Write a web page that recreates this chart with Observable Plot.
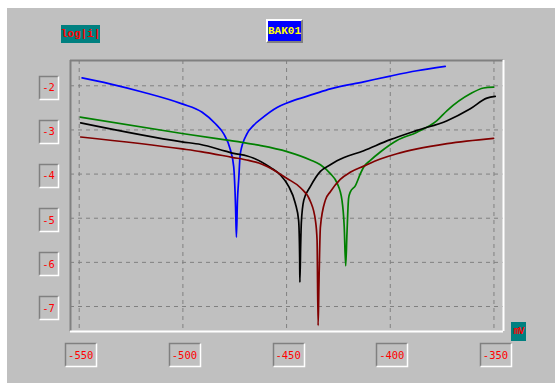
<!DOCTYPE html>
<html><head><meta charset="utf-8">
<script src="https://cdn.jsdelivr.net/npm/d3@7"></script>
<script src="https://cdn.jsdelivr.net/npm/@observablehq/plot@0.6"></script>
<style>
body{margin:0;background:#fff;}
#wrap{position:relative;width:555px;height:383px;overflow:hidden;}
#panel{position:absolute;left:7px;top:8px;width:548px;height:375px;background:#c0c0c0;}
#chart{position:absolute;left:0;top:0;}
.tag{position:absolute;font-family:"Liberation Mono",monospace;font-weight:bold;font-size:11px;line-height:1;display:flex;align-items:center;justify-content:center;box-sizing:border-box;white-space:nowrap;}
</style></head><body>
<div id="wrap"><div id="panel"></div><div id="chart"></div>
<div class="tag" style="left:61px;top:25px;width:39px;height:18px;background:#008080;color:#ff0000">log|i|</div>
<div class="tag" style="left:266px;top:19px;width:37px;height:24px;background:#0000ff;color:#ffff00;border:2px solid;border-color:#ffffff #808080 #808080 #ffffff">BAK01</div>
<div class="tag" style="left:511px;top:322px;width:15px;height:19px;background:#008080;color:#ff0000;font-size:10px;letter-spacing:-1px">mV</div>
</div>
<script>
const title = "BAK01";
const yLabel = "log|i|";
const xLabel = "mV";
const xTicks = [-550, -500, -450, -400, -350];
const yTicks = [-2, -3, -4, -5, -6, -7];

const blueV = [-548.6, -535.7, -519.6, -500.4, -490.7, -484.3, -480.3, -477.1, -475.5, -474.6, -474.2, -473.7, -473.1, -472.3, -469, -465.8, -462.6, -454.6, -449.8, -445.8, -437, -428.9, -412.8, -400, -387.1, -373.5];
const blueL = [-1.82, -1.95, -2.14, -2.41, -2.60, -2.86, -3.09, -3.45, -3.83, -4.75, -5.43, -4.6, -4.13, -3.53, -3.08, -2.89, -2.76, -2.49, -2.39, -2.32, -2.19, -2.07, -1.91, -1.78, -1.66, -1.56];

const greenV = [-549.4, -500.4, -478.7, -471.4, -464.2, -449.8, -438.5, -433.7, -428.9, -425.7, -423.3, -422.2, -421.5, -420.9, -420.1, -419.3, -416.8, -414.4, -412.8, -409.6, -404.8, -396.8, -387.1, -377.5, -372.6, -361.4, -355, -350.2];
const greenL = [-2.71, -3.08, -3.23, -3.28, -3.34, -3.49, -3.68, -3.79, -3.99, -4.20, -4.59, -5.20, -6.08, -5.36, -4.55, -4.41, -4.26, -3.99, -3.84, -3.69, -3.50, -3.24, -3.05, -2.79, -2.56, -2.18, -2.05, -2.03];

const blackV = [-549.3, -500.4, -491.4, -479.5, -475.5, -469, -465.8, -457.8, -453, -449, -445.8, -444.2, -443.7, -443.6, -443.2, -442.9, -441.7, -438.5, -433.7, -428.9, -425.7, -412.8, -400, -387.1, -372.6, -361.4, -353.4, -349.4];
const blackL = [-2.84, -3.27, -3.33, -3.48, -3.53, -3.59, -3.64, -3.85, -4.02, -4.28, -4.66, -5.05, -5.88, -6.45, -5.6, -5.11, -4.59, -4.28, -3.94, -3.79, -3.70, -3.47, -3.22, -3.01, -2.79, -2.52, -2.28, -2.24];

const redV = [-549.3, -500.4, -491.4, -476.3, -468.3, -463.4, -459.4, -449.8, -443.3, -438.5, -436.1, -435.3, -434.8, -434.4, -433.7, -431.3, -428.9, -424.1, -419.3, -412.8, -404.8, -396.8, -387.1, -372.6, -350.2];
const redL = [-3.16, -3.43, -3.49, -3.62, -3.69, -3.75, -3.83, -4.10, -4.31, -4.62, -5.05, -5.50, -7.43, -6.5, -5.20, -4.59, -4.40, -4.12, -3.96, -3.82, -3.66, -3.54, -3.43, -3.31, -3.19];

const series = [
  {name: "blue", color: "#0000ff", v: blueV, l: blueL},
  {name: "green", color: "#008000", v: greenV, l: greenL},
  {name: "black", color: "#000000", v: blackV, l: blackL},
  {name: "darkred", color: "#800000", v: redV, l: redL}
];

const xDomain = [-554.2, -345.4];
const yDomain = [-7.566, -1.427];
const tickFont = "'DejaVu Sans Mono', monospace";

const lineMarks = series.map(s => Plot.line(s.v.map((v, i) => ({v, l: s.l[i]})), {
  x: "v", y: "l", stroke: s.color, strokeWidth: 1.7, curve: "monotone-x"
}));

const plot = Plot.plot({
  width: 555, height: 383,
  marginLeft: 70, marginTop: 60, marginRight: 52, marginBottom: 52,
  style: {background: "transparent", overflow: "visible"},
  x: {domain: xDomain, axis: null},
  y: {domain: yDomain, axis: null},
  marks: [
    Plot.ruleX(xTicks, {stroke: "#808080", strokeDasharray: "4,4", strokeWidth: 1}),
    Plot.ruleY(yTicks, {stroke: "#808080", strokeDasharray: "4,4", strokeWidth: 1}),
    ...lineMarks,
    Plot.ruleY([yDomain[1]], {stroke: "#808080", strokeWidth: 2}),
    Plot.ruleX([xDomain[0]], {stroke: "#808080", strokeWidth: 2}),
    Plot.ruleY([yDomain[0]], {stroke: "#ffffff", strokeWidth: 2}),
    Plot.ruleX([xDomain[1]], {stroke: "#ffffff", strokeWidth: 2}),
    Plot.text(xTicks, {x: d => d, text: d => String(d), frameAnchor: "bottom", dy: 27, dx: 1.5,
      fill: "#ff0000", fontFamily: tickFont, fontSize: 10.5}),
    Plot.text(yTicks, {y: d => d, text: d => String(d), frameAnchor: "left", dx: -22, dy: 2,
      textAnchor: "middle", fill: "#ff0000", fontFamily: tickFont, fontSize: 10.5})
  ]
});
document.getElementById("chart").appendChild(plot);

// sunken boxes behind tick labels
const svgEl = plot.tagName.toLowerCase() === "svg" ? plot : plot.querySelector("svg");
const svgRect = svgEl.getBoundingClientRect();
const ns = "http://www.w3.org/2000/svg";
const boxG = document.createElementNS(ns, "g");
function addBox(t, padX, h) {
  const r = t.getBoundingClientRect();
  if (!r.width) return;
  const cx = r.left - svgRect.left + r.width / 2;
  const cy = r.top - svgRect.top + r.height / 2;
  const w = Math.round(r.width + 2 * padX);
  const x0 = Math.round(cx - w / 2) + 0.5, y0 = Math.round(cy - h / 2) + 0.5;
  const x1 = x0 + w, y1 = y0 + h;
  const dark = document.createElementNS(ns, "path");
  dark.setAttribute("d", `M${x0},${y1}V${y0}H${x1}`);
  dark.setAttribute("stroke", "#808080"); dark.setAttribute("fill", "none"); dark.setAttribute("stroke-width", "1.5");
  const light = document.createElementNS(ns, "path");
  light.setAttribute("d", `M${x1},${y0}V${y1}H${x0}`);
  light.setAttribute("stroke", "#ffffff"); light.setAttribute("fill", "none"); light.setAttribute("stroke-width", "1.5");
  boxG.appendChild(dark); boxG.appendChild(light);
}
svgEl.querySelectorAll("text").forEach(t => addBox(t, 3, 23));
svgEl.appendChild(boxG);
</script>
</body></html>
